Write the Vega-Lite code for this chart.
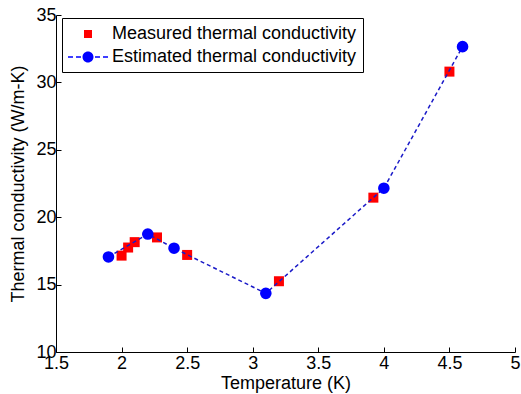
{
  "$schema": "https://vega.github.io/schema/vega-lite/v6.json",
  "width": 459,
  "height": 337,
  "autosize": {"type": "none"},
  "padding": {"left": 56, "top": 15, "right": 6, "bottom": 42},
  "background": "white",
  "config": {
    "view": {"stroke": null},
    "font": "Liberation Sans",
    "axis": {
      "grid": false,
      "domainColor": "#000000",
      "domainWidth": 1,
      "tickColor": "#000000",
      "tickWidth": 1,
      "tickSize": -5,
      "labelFont": "Liberation Sans",
      "labelFontSize": 18,
      "labelColor": "#000000",
      "labelFlush": false,
      "labelOverlap": false,
      "titleFont": "Liberation Sans",
      "titleFontSize": 18,
      "titleFontWeight": "normal",
      "titleColor": "#000000"
    }
  },
  "datasets": {
    "measured": [
      {"T": 2.0, "k": 17.15, "series": "Measured thermal conductivity"},
      {"T": 2.05, "k": 17.75, "series": "Measured thermal conductivity"},
      {"T": 2.1, "k": 18.15, "series": "Measured thermal conductivity"},
      {"T": 2.27, "k": 18.5, "series": "Measured thermal conductivity"},
      {"T": 2.5, "k": 17.2, "series": "Measured thermal conductivity"},
      {"T": 3.2, "k": 15.25, "series": "Measured thermal conductivity"},
      {"T": 3.92, "k": 21.45, "series": "Measured thermal conductivity"},
      {"T": 4.5, "k": 30.8, "series": "Measured thermal conductivity"}
    ],
    "estimated": [
      {"T": 1.9, "k": 17.05},
      {"T": 2.2, "k": 18.75},
      {"T": 2.4, "k": 17.7},
      {"T": 3.1, "k": 14.35},
      {"T": 4.0, "k": 22.15},
      {"T": 4.6, "k": 32.65}
    ]
  },
  "encoding": {
    "x": {
      "field": "T",
      "type": "quantitative",
      "scale": {"domain": [1.5, 5], "nice": false, "zero": false},
      "axis": {
        "title": "Temperature (K)",
        "values": [1.5, 2, 2.5, 3, 3.5, 4, 4.5, 5],
        "format": "~g",
        "labelPadding": 7,
        "titlePadding": 2
      }
    },
    "y": {
      "field": "k",
      "type": "quantitative",
      "scale": {"domain": [10, 35], "nice": false, "zero": false},
      "axis": {
        "title": "Thermal conductivity (W/m-K)",
        "values": [10, 15, 20, 25, 30, 35],
        "format": "~g",
        "labelPadding": 5,
        "titlePadding": 8
      }
    }
  },
  "layer": [
    {
      "data": {"name": "measured"},
      "mark": {"type": "point", "filled": true, "size": 625, "opacity": 1, "strokeWidth": 0},
      "encoding": {
        "color": {
          "field": "series",
          "type": "nominal",
          "scale": {
            "domain": ["Measured thermal conductivity", "Estimated thermal conductivity"],
            "range": ["#ff0000", "#0000ff"]
          },
          "legend": {
            "orient": "none",
            "legendX": 6,
            "legendY": 3,
            "title": null,
            "symbolSize": 400,
            "symbolStrokeWidth": 0,
            "symbolOpacity": 1,
            "labelFont": "Liberation Sans",
            "labelFontSize": 18,
            "labelColor": "#000000",
            "labelLimit": 400,
            "strokeColor": "#000000",
            "fillColor": "#ffffff",
            "padding": 6,
            "rowPadding": 4,
            "symbolOffset": 10,
            "labelOffset": 14
          }
        },
        "shape": {
          "field": "series",
          "type": "nominal",
          "scale": {
            "domain": ["Measured thermal conductivity", "Estimated thermal conductivity"],
            "range": [
              "M-0.4,-0.4L0.4,-0.4L0.4,0.4L-0.4,0.4Z",
              "M0.55,0A0.55,0.55,0,1,1,-0.55,0A0.55,0.55,0,1,1,0.55,0Z M-2,-0.08L-1.5,-0.08L-1.5,0.08L-2,0.08Z M-1.2,-0.08L-0.7,-0.08L-0.7,0.08L-1.2,0.08Z M0.7,-0.08L1.2,-0.08L1.2,0.08L0.7,0.08Z M1.5,-0.08L2,-0.08L2,0.08L1.5,0.08Z"
            ]
          },
          "legend": null
        }
      }
    },
    {
      "data": {"name": "estimated"},
      "mark": {"type": "line", "color": "#1a1ac8", "strokeWidth": 1.5, "strokeDash": [4, 3]},
      "encoding": {}
    },
    {
      "data": {"name": "estimated"},
      "mark": {"type": "point", "shape": "circle", "filled": true, "size": 135, "color": "#0000ff", "opacity": 1, "strokeWidth": 0},
      "encoding": {}
    }
  ]
}
